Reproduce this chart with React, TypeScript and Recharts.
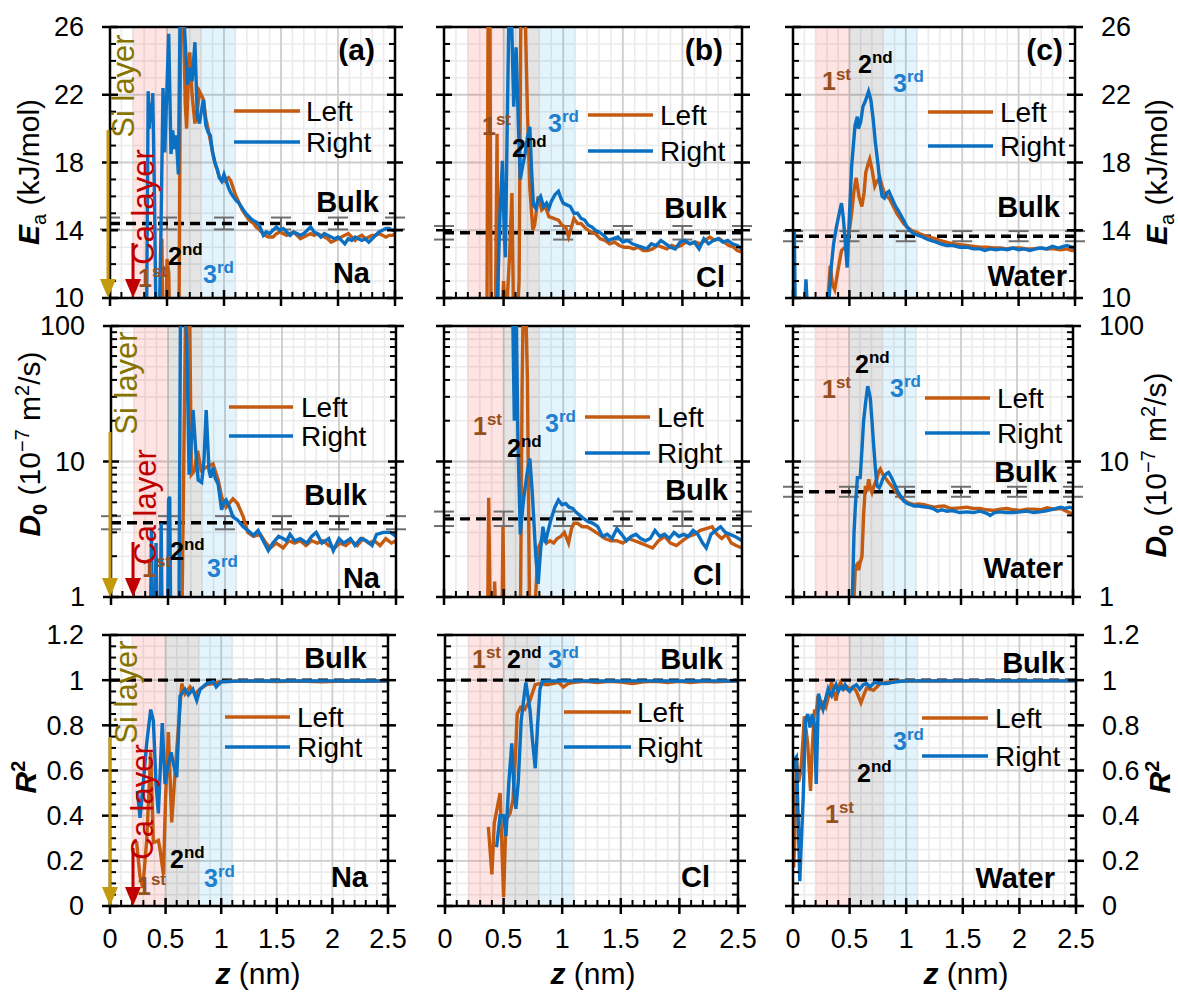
import React from 'react';
import { LineChart, Line, XAxis, YAxis, CartesianGrid, ReferenceArea, ReferenceLine, ErrorBar } from 'recharts';

type Pt = [number, number];

const FONT = "'Liberation Sans', Arial, Helvetica, sans-serif";
const ORANGE = '#c55a11';
const BLUE = '#0b70c2';

// ---------- axis ticks ----------
const X_TICKS = [0, 0.1, 0.2, 0.3, 0.4, 0.5, 0.6, 0.7, 0.8, 0.9, 1, 1.1, 1.2, 1.3, 1.4, 1.5, 1.6, 1.7, 1.8, 1.9, 2, 2.1, 2.2, 2.3, 2.4, 2.5];
const X_MAJOR = [0, 0.5, 1, 1.5, 2, 2.5];
const X_LABELS = ['0', '0.5', '1', '1.5', '2', '2.5'];

const EA_TICKS = [10, 11, 12, 13, 14, 15, 16, 17, 18, 19, 20, 21, 22, 23, 24, 25, 26];
const EA_MAJOR = [10, 14, 18, 22, 26];
const EA_LABELS = ['10', '14', '18', '22', '26'];

const D_TICKS = [1, 2, 3, 4, 5, 6, 7, 8, 9, 10, 20, 30, 40, 50, 60, 70, 80, 90, 100];
const D_MAJOR = [1, 10, 100];
const D_LABELS = ['1', '10', '100'];

const R_TICKS = [0, 0.05, 0.1, 0.15, 0.2, 0.25, 0.3, 0.35, 0.4, 0.45, 0.5, 0.55, 0.6, 0.65, 0.7, 0.75, 0.8, 0.85, 0.9, 0.95, 1, 1.05, 1.1, 1.15, 1.2];
const R_MAJOR = [0, 0.2, 0.4, 0.6, 0.8, 1, 1.2];
const R_LABELS = ['0', '0.2', '0.4', '0.6', '0.8', '1', '1.2'];

// layer bands (nm)
const LAYER_1 = [0.2, 0.5];
const LAYER_2 = [0.5, 0.8];
const LAYER_3 = [0.8, 1.1];

// bulk reference positions
const BULK_Z = [0, 0.5, 1, 1.5, 2, 2.5];
const NA_EA_BULK = 14.4, NA_EA_ERR: Pt = [0.35, 0.35];
const CL_EA_BULK = 13.85, CL_EA_ERR: Pt = [0.4, 0.4];
const W_EA_BULK = 13.65, W_EA_ERR: Pt = [0.3, 0.3];
const NA_D_BULK = 3.53, NA_D_ERR: Pt = [0.37, 0.42];
const CL_D_BULK = 3.77, CL_D_ERR: Pt = [0.43, 0.5];
const W_D_BULK = 5.98, W_D_ERR: Pt = [0.49, 0.53];
const R_BULK = 1;

// ---------- Na: activation energy ----------
const NA_EA_LEFT: Pt[] = [[0.44, 8], [0.455, 13.5], [0.465, 8], [0.49, 8], [0.50, 12.3], [0.515, 11.5], [0.525, 8], [0.59, 8], [0.605, 8], [0.62, 27], [0.645, 26.5], [0.66, 21.5], [0.672, 20.0], [0.69, 23.5], [0.70, 24.5], [0.72, 22], [0.745, 20.3], [0.765, 21], [0.785, 22.2], [0.80, 22.0], [0.82, 21.7], [0.84, 20.6], [0.86, 20.0], [0.88, 19.3], [0.90, 18.6], [0.92, 18.0], [0.94, 17.6], [0.96, 17.1], [0.98, 17.0], [1.00, 16.9], [1.02, 17.0], [1.04, 17.1], [1.06, 16.9], [1.08, 16.5], [1.10, 16.1], [1.12, 15.8], [1.14, 15.5], [1.16, 15.2], [1.18, 15.0], [1.20, 14.8], [1.22, 14.6], [1.24, 14.5], [1.26, 14.4], [1.28, 14.2], [1.30, 14.1], [1.33, 13.9], [1.36, 13.7], [1.39, 13.6], [1.43, 13.6], [1.46, 13.8], [1.49, 13.9], [1.52, 13.8], [1.55, 13.7], [1.58, 13.8], [1.61, 13.9], [1.64, 13.7], [1.67, 13.5], [1.70, 13.6], [1.73, 13.7], [1.76, 13.8], [1.79, 13.7], [1.82, 13.8], [1.85, 13.7], [1.88, 13.6], [1.91, 13.5], [1.94, 13.3], [1.97, 13.4], [2.00, 13.5], [2.03, 13.6], [2.06, 13.7], [2.09, 13.8], [2.12, 13.6], [2.15, 13.4], [2.18, 13.6], [2.21, 13.7], [2.24, 13.5], [2.27, 13.6], [2.30, 13.7], [2.33, 13.7], [2.36, 13.8], [2.39, 13.7], [2.42, 13.6], [2.45, 13.7], [2.48, 13.7], [2.50, 13.8]];
const NA_EA_RIGHT: Pt[] = [[0.32, 8], [0.335, 22.2], [0.345, 20.0], [0.355, 21.5], [0.365, 20.4], [0.375, 22.1], [0.39, 16], [0.405, 8], [0.43, 8], [0.445, 13], [0.465, 22.4], [0.48, 18.6], [0.495, 21.5], [0.515, 25.6], [0.535, 18.5], [0.55, 19.9], [0.565, 18.8], [0.58, 19.6], [0.60, 17.3], [0.615, 27], [0.645, 27], [0.665, 24.5], [0.68, 22.6], [0.70, 23.6], [0.72, 22.8], [0.745, 25.1], [0.765, 20.8], [0.785, 20.3], [0.80, 21.0], [0.82, 21.7], [0.84, 20.2], [0.86, 19.8], [0.88, 19.6], [0.90, 18.6], [0.92, 18.0], [0.94, 17.6], [0.96, 17.1], [0.98, 16.9], [1.00, 17.3], [1.02, 16.9], [1.04, 16.5], [1.06, 16.2], [1.08, 16.0], [1.10, 15.8], [1.13, 15.6], [1.16, 15.3], [1.19, 15.0], [1.22, 14.8], [1.25, 14.6], [1.28, 14.5], [1.31, 14.3], [1.345, 13.7], [1.37, 13.9], [1.40, 13.8], [1.43, 14.0], [1.46, 14.2], [1.49, 14.0], [1.52, 14.1], [1.55, 13.9], [1.58, 13.7], [1.61, 13.9], [1.64, 13.8], [1.67, 13.7], [1.70, 13.8], [1.73, 14.0], [1.76, 14.2], [1.79, 13.9], [1.82, 13.8], [1.85, 13.6], [1.88, 13.8], [1.91, 13.7], [1.94, 13.6], [1.97, 13.5], [2.00, 13.6], [2.03, 13.4], [2.06, 13.2], [2.09, 13.5], [2.12, 13.4], [2.15, 13.6], [2.18, 13.5], [2.21, 13.4], [2.24, 13.5], [2.27, 13.3], [2.30, 13.5], [2.33, 13.7], [2.36, 13.9], [2.39, 14.0], [2.42, 14.1], [2.45, 14.1], [2.48, 14.0], [2.50, 14.0]];

// ---------- Cl: activation energy ----------
const CL_EA_LEFT: Pt[] = [[0.36, 8], [0.37, 27], [0.385, 27], [0.395, 8], [0.43, 8], [0.445, 19.7], [0.455, 8], [0.48, 8], [0.50, 11], [0.52, 8.5], [0.55, 12.5], [0.57, 16.2], [0.585, 8], [0.61, 8], [0.63, 11], [0.645, 27], [0.68, 27], [0.70, 21], [0.72, 16.5], [0.745, 14.0], [0.76, 14.3], [0.79, 16.0], [0.82, 15.2], [0.85, 15.4], [0.88, 14.8], [0.92, 14.7], [0.96, 14.6], [0.99, 14.3], [1.02, 14.2], [1.045, 13.6], [1.07, 14.2], [1.09, 14.7], [1.12, 14.4], [1.15, 14.4], [1.19, 14.1], [1.23, 13.9], [1.27, 13.8], [1.31, 13.5], [1.35, 13.4], [1.39, 13.2], [1.43, 13.3], [1.47, 13.1], [1.51, 13.0], [1.55, 13.0], [1.59, 12.9], [1.63, 13.0], [1.67, 12.8], [1.71, 12.8], [1.75, 12.9], [1.79, 13.1], [1.83, 13.0], [1.87, 12.9], [1.91, 13.1], [1.95, 13.0], [1.99, 13.1], [2.03, 13.3], [2.07, 13.2], [2.11, 13.3], [2.15, 13.2], [2.19, 13.4], [2.23, 13.6], [2.27, 13.4], [2.31, 13.5], [2.35, 13.3], [2.39, 13.1], [2.43, 13.0], [2.46, 12.8], [2.50, 12.7]];
const CL_EA_RIGHT: Pt[] = [[0.44, 8], [0.47, 15], [0.49, 18.1], [0.505, 14], [0.515, 12.4], [0.53, 20], [0.545, 27], [0.565, 27], [0.585, 21.3], [0.605, 24.8], [0.625, 20], [0.64, 17.0], [0.66, 17.8], [0.68, 18.5], [0.70, 19.5], [0.72, 20.1], [0.735, 17.5], [0.75, 15.5], [0.77, 15.3], [0.79, 15.8], [0.81, 16.0], [0.835, 15.4], [0.86, 15.6], [0.88, 15.3], [0.90, 15.7], [0.93, 16.1], [0.96, 16.3], [0.98, 15.9], [1.00, 15.6], [1.03, 15.5], [1.06, 15.4], [1.09, 15.0], [1.12, 15.0], [1.15, 14.7], [1.18, 14.6], [1.21, 14.3], [1.24, 14.2], [1.27, 14.0], [1.30, 13.9], [1.34, 13.7], [1.38, 13.4], [1.42, 13.5], [1.46, 13.6], [1.50, 13.3], [1.54, 13.4], [1.58, 13.2], [1.62, 13.1], [1.66, 13.0], [1.70, 12.9], [1.74, 13.2], [1.78, 13.1], [1.82, 13.4], [1.86, 13.2], [1.90, 13.0], [1.94, 12.9], [1.98, 13.3], [2.02, 13.4], [2.06, 13.2], [2.10, 13.3], [2.14, 12.9], [2.18, 13.5], [2.22, 13.2], [2.26, 13.4], [2.30, 13.5], [2.34, 13.3], [2.38, 13.4], [2.42, 13.2], [2.46, 13.1], [2.50, 12.9]];

// ---------- Water: activation energy ----------
const W_EA_LEFT: Pt[] = [[0.30, 9], [0.33, 11.9], [0.35, 10.8], [0.37, 10.5], [0.40, 11.7], [0.43, 12.8], [0.46, 13.0], [0.48, 13.1], [0.50, 14.0], [0.52, 15.0], [0.54, 16.3], [0.56, 17.1], [0.585, 16.0], [0.61, 15.4], [0.63, 16.2], [0.645, 17.4], [0.665, 17.9], [0.68, 18.2], [0.70, 17.6], [0.725, 16.6], [0.745, 16.9], [0.77, 17.1], [0.79, 16.6], [0.81, 16.2], [0.835, 16.0], [0.86, 15.8], [0.89, 15.4], [0.92, 15.0], [0.95, 14.7], [0.98, 14.4], [1.01, 14.2], [1.05, 14.0], [1.09, 13.9], [1.12, 13.8], [1.16, 13.7], [1.21, 13.6], [1.26, 13.5], [1.30, 13.4], [1.36, 13.3], [1.42, 13.2], [1.48, 13.15], [1.54, 13.1], [1.60, 13.05], [1.66, 13.0], [1.72, 13.0], [1.78, 12.95], [1.84, 12.95], [1.89, 12.9], [1.95, 12.95], [2.01, 12.95], [2.07, 12.9], [2.13, 12.9], [2.19, 12.95], [2.25, 12.9], [2.31, 12.9], [2.37, 12.85], [2.43, 12.9], [2.47, 12.8], [2.50, 12.8]];
const W_EA_RIGHT: Pt[] = [[0.012, 14.0], [0.02, 9], [0.10, 9], [0.115, 11.1], [0.13, 9], [0.23, 9], [0.24, 9.9], [0.25, 9], [0.31, 9], [0.34, 11.9], [0.36, 13.2], [0.385, 14.2], [0.41, 15.0], [0.43, 15.6], [0.445, 14.8], [0.46, 13.6], [0.48, 11.8], [0.50, 14.8], [0.52, 17.8], [0.55, 20.2], [0.57, 20.7], [0.58, 20.0], [0.60, 20.4], [0.62, 21.3], [0.64, 21.6], [0.67, 22.2], [0.69, 21.7], [0.71, 20.6], [0.73, 19.2], [0.755, 17.8], [0.77, 16.8], [0.79, 16.0], [0.81, 15.9], [0.83, 16.2], [0.85, 16.3], [0.87, 16.0], [0.89, 15.7], [0.91, 15.4], [0.93, 15.2], [0.955, 14.9], [0.98, 14.6], [1.01, 14.2], [1.035, 14.0], [1.07, 13.8], [1.11, 13.7], [1.15, 13.6], [1.18, 13.5], [1.22, 13.4], [1.27, 13.3], [1.31, 13.2], [1.36, 13.1], [1.42, 13.1], [1.48, 13.0], [1.54, 13.0], [1.60, 12.9], [1.66, 12.9], [1.70, 12.8], [1.75, 12.9], [1.80, 12.85], [1.85, 12.9], [1.90, 12.85], [1.95, 12.95], [2.00, 12.85], [2.05, 12.9], [2.10, 12.8], [2.15, 12.9], [2.20, 12.95], [2.25, 12.9], [2.30, 13.05], [2.35, 12.95], [2.40, 13.05], [2.43, 13.1], [2.47, 13.0], [2.50, 13.0]];

// ---------- Na: pre-exponential factor ----------
const NA_D_LEFT: Pt[] = [[0.62, 0.5], [0.655, 150], [0.69, 120], [0.705, 8.0], [0.73, 8.5], [0.76, 12], [0.79, 8.6], [0.84, 9.1], [0.895, 9.6], [0.94, 7.3], [0.97, 5.5], [1.01, 4.6], [1.07, 5.3], [1.11, 4.9], [1.16, 3.9], [1.20, 3.0], [1.25, 2.8], [1.31, 2.9], [1.36, 2.5], [1.40, 2.3], [1.45, 2.5], [1.51, 2.3], [1.56, 2.6], [1.61, 2.5], [1.66, 2.6], [1.71, 2.4], [1.76, 2.6], [1.81, 2.5], [1.86, 2.6], [1.91, 2.4], [1.96, 2.3], [2.01, 2.5], [2.06, 2.4], [2.11, 2.6], [2.16, 2.4], [2.21, 2.7], [2.26, 2.5], [2.31, 2.6], [2.36, 2.4], [2.41, 2.7], [2.46, 2.5], [2.50, 2.6]];
const NA_D_RIGHT: Pt[] = [[0.345, 0.5], [0.355, 3.2], [0.365, 0.5], [0.385, 0.5], [0.395, 2.5], [0.405, 0.5], [0.43, 0.5], [0.44, 3.5], [0.45, 0.5], [0.495, 0.5], [0.505, 5.2], [0.515, 5.5], [0.525, 0.5], [0.595, 0.5], [0.61, 150], [0.645, 150], [0.665, 80], [0.685, 8.0], [0.70, 12], [0.72, 24], [0.745, 11.5], [0.765, 7.3], [0.795, 7.0], [0.815, 10], [0.835, 24], [0.86, 8.5], [0.875, 7.6], [0.895, 9.0], [0.915, 7.5], [0.94, 6.8], [0.97, 4.4], [0.99, 5.0], [1.01, 5.2], [1.04, 4.6], [1.07, 3.9], [1.11, 3.7], [1.16, 3.3], [1.20, 3.1], [1.25, 2.85], [1.29, 3.1], [1.335, 2.6], [1.38, 2.2], [1.42, 2.5], [1.47, 2.8], [1.51, 2.7], [1.54, 2.6], [1.57, 2.9], [1.61, 2.6], [1.66, 2.7], [1.72, 2.5], [1.76, 2.8], [1.80, 3.0], [1.85, 2.5], [1.91, 2.7], [1.95, 2.2], [2.00, 2.7], [2.04, 2.5], [2.10, 2.7], [2.14, 2.4], [2.19, 2.7], [2.24, 2.6], [2.29, 2.4], [2.33, 2.9], [2.39, 3.0], [2.45, 3.0], [2.50, 2.8]];

// ---------- Cl: pre-exponential factor ----------
const CL_D_LEFT: Pt[] = [[0.365, 0.5], [0.375, 5.4], [0.39, 0.5], [0.415, 0.5], [0.425, 1.3], [0.44, 0.5], [0.485, 0.5], [0.495, 3.3], [0.505, 0.5], [0.64, 0.5], [0.655, 35], [0.665, 150], [0.685, 150], [0.70, 40], [0.72, 0.5], [0.75, 0.5], [0.79, 2.3], [0.81, 2.5], [0.835, 3.0], [0.86, 2.5], [0.89, 2.6], [0.92, 2.5], [0.95, 2.7], [0.98, 2.8], [1.01, 3.0], [1.045, 2.5], [1.07, 3.2], [1.09, 3.5], [1.12, 3.5], [1.16, 3.3], [1.20, 3.3], [1.25, 3.1], [1.30, 2.9], [1.35, 2.7], [1.40, 2.6], [1.45, 2.6], [1.50, 2.5], [1.55, 2.7], [1.60, 2.6], [1.65, 2.5], [1.70, 2.4], [1.75, 2.3], [1.80, 2.6], [1.85, 2.8], [1.90, 2.5], [1.95, 2.4], [2.00, 2.6], [2.05, 2.8], [2.10, 2.9], [2.15, 3.1], [2.20, 3.2], [2.25, 3.3], [2.29, 2.9], [2.33, 2.7], [2.37, 2.9], [2.41, 2.5], [2.45, 2.4], [2.50, 2.3]];
const CL_D_RIGHT: Pt[] = [[0.56, 150], [0.575, 150], [0.59, 20], [0.605, 150], [0.62, 15], [0.64, 2.9], [0.67, 5.5], [0.70, 8.5], [0.72, 10.5], [0.74, 6], [0.77, 2.0], [0.79, 1.25], [0.81, 2.2], [0.83, 3.3], [0.85, 2.5], [0.87, 3.0], [0.90, 3.8], [0.93, 4.6], [0.96, 5.2], [0.99, 4.8], [1.02, 4.9], [1.05, 4.6], [1.08, 4.5], [1.11, 4.2], [1.14, 4.0], [1.17, 3.8], [1.21, 3.6], [1.25, 3.5], [1.29, 3.3], [1.33, 2.8], [1.37, 2.9], [1.41, 2.7], [1.45, 3.2], [1.49, 2.9], [1.53, 2.6], [1.57, 2.8], [1.61, 2.9], [1.65, 2.7], [1.69, 2.6], [1.73, 2.7], [1.77, 3.1], [1.81, 2.8], [1.85, 2.9], [1.89, 2.7], [1.93, 3.0], [1.97, 2.8], [2.01, 2.9], [2.05, 2.8], [2.09, 3.1], [2.13, 2.9], [2.17, 2.5], [2.20, 2.3], [2.24, 2.9], [2.28, 3.1], [2.32, 3.3], [2.36, 3.0], [2.40, 2.9], [2.44, 2.8], [2.47, 2.7], [2.50, 2.6]];

// ---------- Water: pre-exponential factor ----------
const W_D_LEFT: Pt[] = [[0.545, 1.0], [0.557, 1.68], [0.575, 1.75], [0.586, 1.58], [0.60, 1.8], [0.616, 2.0], [0.63, 4], [0.646, 6.6], [0.66, 6.0], [0.676, 7.4], [0.69, 6.4], [0.705, 5.9], [0.72, 6.5], [0.735, 7.0], [0.75, 7.5], [0.765, 8.4], [0.78, 8.8], [0.80, 8.1], [0.815, 7.7], [0.834, 7.4], [0.854, 7.0], [0.88, 6.6], [0.90, 6.3], [0.93, 5.8], [0.96, 5.4], [0.99, 5.2], [1.02, 5.0], [1.05, 4.9], [1.08, 4.8], [1.12, 4.85], [1.17, 4.8], [1.21, 4.7], [1.26, 4.6], [1.30, 4.65], [1.35, 4.7], [1.39, 4.55], [1.43, 4.5], [1.49, 4.55], [1.55, 4.6], [1.61, 4.5], [1.67, 4.5], [1.73, 4.4], [1.79, 4.35], [1.85, 4.45], [1.91, 4.5], [1.97, 4.4], [2.03, 4.35], [2.09, 4.45], [2.15, 4.45], [2.21, 4.4], [2.27, 4.55], [2.33, 4.45], [2.39, 4.5], [2.44, 4.3], [2.50, 4.1]];
const W_D_RIGHT: Pt[] = [[0.52, 0.8], [0.53, 1.0], [0.545, 3.0], [0.557, 4.7], [0.575, 7.6], [0.60, 7.6], [0.615, 12], [0.63, 19.8], [0.65, 28], [0.667, 36], [0.69, 29.5], [0.705, 20], [0.72, 13.2], [0.735, 9], [0.75, 6.6], [0.77, 6.4], [0.786, 6.8], [0.80, 7.4], [0.82, 7.9], [0.84, 8.2], [0.854, 8.3], [0.88, 7.6], [0.90, 7.0], [0.92, 6.4], [0.94, 5.9], [0.965, 5.5], [0.99, 5.1], [1.02, 4.9], [1.05, 4.8], [1.08, 4.7], [1.11, 4.7], [1.15, 4.65], [1.20, 4.6], [1.25, 4.5], [1.29, 4.3], [1.33, 4.4], [1.375, 4.3], [1.42, 4.35], [1.49, 4.2], [1.55, 4.25], [1.61, 4.2], [1.67, 4.3], [1.73, 4.15], [1.76, 4.0], [1.80, 4.2], [1.85, 4.25], [1.90, 4.2], [1.97, 4.2], [2.03, 4.25], [2.09, 4.3], [2.15, 4.2], [2.20, 4.25], [2.25, 4.3], [2.30, 4.4], [2.35, 4.5], [2.39, 4.6], [2.43, 4.5], [2.47, 4.6], [2.50, 4.5]];

// ---------- Na: fit quality ----------
const NA_R_LEFT: Pt[] = [[0.21, 0.29], [0.24, 0.28], [0.27, 0.13], [0.295, 0.08], [0.33, 0.29], [0.366, 0.68], [0.39, 0.28], [0.435, 0.29], [0.45, 0.25], [0.48, 0.14], [0.50, 0.48], [0.525, 0.77], [0.555, 0.37], [0.585, 0.59], [0.615, 0.79], [0.645, 0.985], [0.675, 0.94], [0.72, 0.97], [0.765, 0.94], [0.81, 0.96], [0.87, 0.98], [0.93, 0.985], [0.99, 0.993], [1.1, 0.995], [1.3, 0.996], [1.5, 0.994], [1.7, 0.996], [1.9, 0.993], [2.1, 0.996], [2.3, 0.995], [2.5, 0.996]];
const NA_R_RIGHT: Pt[] = [[0.246, 0.51], [0.27, 0.39], [0.30, 0.55], [0.33, 0.72], [0.366, 0.87], [0.39, 0.82], [0.414, 0.54], [0.435, 0.41], [0.47, 0.81], [0.495, 0.54], [0.52, 0.62], [0.55, 0.68], [0.57, 0.63], [0.60, 0.57], [0.63, 0.93], [0.675, 0.96], [0.705, 0.935], [0.745, 0.96], [0.78, 0.91], [0.81, 0.96], [0.87, 0.985], [0.93, 0.993], [0.955, 0.97], [1.0, 0.993], [1.2, 0.997], [1.4, 0.996], [1.6, 0.997], [1.8, 0.996], [2.0, 0.997], [2.2, 0.996], [2.5, 0.997]];

// ---------- Cl: fit quality ----------
const CL_R_LEFT: Pt[] = [[0.37, 0.35], [0.40, 0.14], [0.42, 0.365], [0.44, 0.42], [0.47, 0.50], [0.50, 0.04], [0.52, 0.38], [0.555, 0.41], [0.58, 0.47], [0.60, 0.65], [0.616, 0.85], [0.645, 0.88], [0.68, 0.87], [0.70, 0.89], [0.725, 0.91], [0.75, 0.95], [0.77, 0.98], [0.81, 0.985], [0.87, 0.98], [0.92, 0.985], [0.97, 0.99], [1.01, 0.97], [1.05, 0.985], [1.1, 0.99], [1.2, 0.995], [1.3, 0.99], [1.4, 0.995], [1.5, 0.992], [1.6, 0.985], [1.7, 0.993], [1.8, 0.995], [1.9, 0.99], [2.0, 0.995], [2.1, 0.99], [2.2, 0.995], [2.3, 0.993], [2.4, 0.995], [2.5, 0.996]];
const CL_R_RIGHT: Pt[] = [[0.44, 0.26], [0.47, 0.40], [0.50, 0.40], [0.52, 0.31], [0.545, 0.55], [0.57, 0.72], [0.59, 0.50], [0.605, 0.43], [0.625, 0.55], [0.65, 0.82], [0.675, 0.93], [0.69, 0.99], [0.71, 0.92], [0.725, 0.87], [0.745, 0.74], [0.77, 0.61], [0.79, 0.80], [0.81, 0.96], [0.83, 0.995], [0.9, 0.996], [1.1, 0.997], [1.4, 0.996], [1.7, 0.997], [2.0, 0.996], [2.3, 0.997], [2.5, 0.996]];

// ---------- Water: fit quality ----------
const W_R_LEFT: Pt[] = [[0.006, 0.17], [0.015, 0.28], [0.03, 0.65], [0.05, 0.55], [0.07, 0.6], [0.09, 0.75], [0.10, 0.84], [0.13, 0.72], [0.155, 0.51], [0.17, 0.7], [0.19, 0.87], [0.205, 0.85], [0.22, 0.93], [0.24, 0.88], [0.265, 0.9], [0.29, 0.88], [0.31, 0.92], [0.34, 0.99], [0.36, 0.95], [0.38, 0.91], [0.40, 0.97], [0.42, 0.99], [0.45, 0.96], [0.48, 0.97], [0.50, 0.96], [0.53, 0.97], [0.56, 0.95], [0.60, 0.90], [0.63, 0.94], [0.65, 0.965], [0.68, 0.96], [0.71, 0.955], [0.74, 0.97], [0.77, 0.985], [0.83, 0.99], [0.9, 0.995], [1.0, 0.997], [1.3, 0.996], [1.6, 0.997], [1.9, 0.996], [2.2, 0.997], [2.5, 0.997]];
const W_R_RIGHT: Pt[] = [[0.006, 0.6], [0.015, 0.65], [0.03, 0.66], [0.045, 0.4], [0.06, 0.11], [0.075, 0.3], [0.09, 0.48], [0.11, 0.82], [0.13, 0.85], [0.15, 0.79], [0.17, 0.85], [0.19, 0.8], [0.205, 0.54], [0.225, 0.94], [0.245, 0.9], [0.265, 0.87], [0.29, 0.92], [0.31, 0.96], [0.325, 0.94], [0.34, 0.93], [0.36, 0.96], [0.38, 0.98], [0.40, 0.95], [0.42, 0.97], [0.44, 0.96], [0.46, 0.98], [0.48, 0.96], [0.50, 0.95], [0.53, 0.97], [0.56, 0.98], [0.59, 0.96], [0.62, 0.98], [0.65, 0.985], [0.68, 0.97], [0.72, 0.99], [0.77, 0.985], [0.83, 0.985], [0.88, 0.99], [0.95, 0.995], [1.05, 0.997], [1.4, 0.997], [1.8, 0.997], [2.2, 0.997], [2.5, 0.997]];

// ---------- panel layout ----------
type RowAxis = { scale: 'linear' | 'log'; domain: [number, number]; ticks: number[]; major: number[]; labels: string[] };
const ROW_AXES: RowAxis[] = [
  { scale: 'linear', domain: [10, 26], ticks: EA_TICKS, major: EA_MAJOR, labels: EA_LABELS },
  { scale: 'log', domain: [1, 100], ticks: D_TICKS, major: D_MAJOR, labels: D_LABELS },
  { scale: 'linear', domain: [0, 1.2], ticks: R_TICKS, major: R_MAJOR, labels: R_LABELS },
];

// plot rectangles [x0, y0, x1, y1] in page pixels
const RECTS = [
  [[110, 27, 395, 298], [444, 27, 742, 298], [793, 27, 1075, 298]],
  [[111, 326, 396, 597], [444, 326, 742, 597], [793, 326, 1073, 597]],
  [[110, 635, 388, 906], [445, 635, 738, 906], [793, 635, 1076, 906]],
];

const SERIES = [
  [
    { left: NA_EA_LEFT, right: NA_EA_RIGHT, bulk: NA_EA_BULK, err: NA_EA_ERR },
    { left: CL_EA_LEFT, right: CL_EA_RIGHT, bulk: CL_EA_BULK, err: CL_EA_ERR },
    { left: W_EA_LEFT, right: W_EA_RIGHT, bulk: W_EA_BULK, err: W_EA_ERR },
  ],
  [
    { left: NA_D_LEFT, right: NA_D_RIGHT, bulk: NA_D_BULK, err: NA_D_ERR },
    { left: CL_D_LEFT, right: CL_D_RIGHT, bulk: CL_D_BULK, err: CL_D_ERR },
    { left: W_D_LEFT, right: W_D_RIGHT, bulk: W_D_BULK, err: W_D_ERR },
  ],
  [
    { left: NA_R_LEFT, right: NA_R_RIGHT, bulk: R_BULK, err: null },
    { left: CL_R_LEFT, right: CL_R_RIGHT, bulk: R_BULK, err: null },
    { left: W_R_LEFT, right: W_R_RIGHT, bulk: R_BULK, err: null },
  ],
];

const SPECIES = ['Na', 'Cl', 'Water'];
const TAGS = ['(a)', '(b)', '(c)'];

// text placement inside each panel
type Annot = { tag?: [number, number]; bulk: [number, number]; sp: [number, number]; legend: [number, number, number, number, number]; ord: [number, number][] };
const ANNOT: Annot[][] = [
  [
    { tag: [375, 60], bulk: [379, 212], sp: [370, 283], legend: [234, 300, 306, 111, 142], ord: [[138, 287], [168, 265], [203, 283]] },
    { tag: [723, 60], bulk: [727, 218], sp: [725, 287], legend: [588, 653, 660, 115, 151], ord: [[482, 135], [512, 157], [548, 132]] },
    { tag: [1063, 60], bulk: [1060, 217], sp: [1067, 286], legend: [928, 993, 1000, 112, 146], ord: [[822, 90], [858, 73], [893, 92]] },
  ],
  [
    { bulk: [367, 505], sp: [380, 588], legend: [229, 293, 301, 407, 436], ord: [[142, 577], [170, 560], [207, 577]] },
    { bulk: [728, 500], sp: [722, 585], legend: [585, 650, 657, 417, 453], ord: [[473, 435], [507, 457], [545, 432]] },
    { bulk: [1057, 482], sp: [1063, 578], legend: [925, 990, 997, 398, 433], ord: [[822, 398], [855, 373], [890, 397]] },
  ],
  [
    { bulk: [367, 668], sp: [368, 887], legend: [225, 290, 297, 717, 747], ord: [[137, 895], [170, 868], [204, 887]] },
    { bulk: [723, 669], sp: [710, 887], legend: [564, 631, 637, 712, 747], ord: [[472, 668], [507, 668], [548, 668]] },
    { bulk: [1065, 673], sp: [1055, 888], legend: [922, 988, 995, 718, 756], ord: [[825, 823], [857, 782], [893, 750]] },
  ],
];

const LAYERS = [
  { n: '1', sup: 'st', color: '#96501c' },
  { n: '2', sup: 'nd', color: '#000000' },
  { n: '3', sup: 'rd', color: '#1f80d0' },
];

// substrate layer markers in the Na column
const SUBSTRATE = [
  { si: [134, 86], ca: [154, 207], gold: [108, 130, 298], red: [133, 243, 298] },
  { si: [137, 383], ca: [156, 507], gold: [110, 432, 597], red: [133, 542, 597] },
  { si: [137, 692], ca: [153, 802], gold: [110, 737, 906], red: [133, 848, 906] },
];

// outer margins; each axis takes 1px of it
const AX = 1;
const M = { top: 14, right: 110 - AX, bottom: 80 - AX, left: 110 - AX };
const LINE_W = 3.4;

function xTick(showLabel: boolean) {
  return (p: any) => {
    const v = p.payload.value;
    const i = X_MAJOR.indexOf(v);
    const { x, y } = p;
    return (
      <g>
        {i >= 0 ? (
          <line x1={x} x2={x} y1={y - 8} y2={y + 8} stroke="#000" strokeWidth={2.5} />
        ) : (
          <line x1={x} x2={x} y1={y} y2={y - 6} stroke="#000" strokeWidth={2} />
        )}
        {i >= 0 && showLabel ? (
          <text x={x} y={y + 42} textAnchor="middle" fontSize={27} fontFamily={FONT} fill="#000">
            {X_LABELS[i]}
          </text>
        ) : null}
      </g>
    );
  };
}

function yTick(axis: RowAxis, side: 'left' | 'right', showLabel: boolean) {
  return (p: any) => {
    const v = p.payload.value;
    const i = axis.major.indexOf(v);
    const { x, y } = p;
    const out = side === 'left' ? -1 : 1;
    return (
      <g>
        {i >= 0 ? (
          <line x1={x + out * 8} x2={x - out * 8} y1={y} y2={y} stroke="#000" strokeWidth={2.5} />
        ) : (
          <line x1={x} x2={x - out * 6} y1={y} y2={y} stroke="#000" strokeWidth={2} />
        )}
        {i >= 0 && showLabel ? (
          <text x={x + out * 26} y={y} dy="0.35em" textAnchor={side === 'left' ? 'end' : 'start'} fontSize={27} fontFamily={FONT} fill="#000">
            {axis.labels[i]}
          </text>
        ) : null}
      </g>
    );
  };
}

function Panel({ row, col }: { row: number; col: number }) {
  const [x0, y0, x1, y1] = RECTS[row][col];
  const axis = ROW_AXES[row];
  const s = SERIES[row][col];
  const w = x1 - x0 + M.left + M.right + 2 * AX;
  const h = y1 - y0 + M.top + M.bottom + AX;
  const leftRows = s.left.map(([z, v]) => ({ z, v }));
  const rightRows = s.right.map(([z, v]) => ({ z, v }));
  const bulkRows = BULK_Z.map((z) => ({ z, v: s.bulk, e: s.err }));
  const minorY = axis.ticks.filter((t) => axis.major.indexOf(t) < 0);
  const minorX = X_TICKS.filter((t) => X_MAJOR.indexOf(t) < 0);
  return (
    <div style={{ position: 'absolute', left: x0 - M.left - AX, top: y0 - M.top }}>
      <LineChart width={w} height={h} margin={M}>
        <CartesianGrid verticalValues={minorX} horizontalValues={minorY} stroke="#ebebeb" strokeWidth={1.6} />
        <CartesianGrid verticalValues={X_MAJOR} horizontalValues={axis.major} stroke="#cdcdcd" strokeWidth={1.8} />
        <ReferenceArea x1={LAYER_1[0]} x2={LAYER_1[1]} fill="#ff3030" fillOpacity={0.13} stroke="none" />
        <ReferenceArea x1={LAYER_2[0]} x2={LAYER_2[1]} fill="#303030" fillOpacity={0.13} stroke="none" />
        <ReferenceArea x1={LAYER_3[0]} x2={LAYER_3[1]} fill="#1ea8e8" fillOpacity={0.12} stroke="none" />
        <XAxis
          dataKey="z"
          type="number"
          domain={[0, 2.5]}
          ticks={X_TICKS}
          interval={0}
          allowDataOverflow
          height={AX}
          tickSize={0}
          tickMargin={0}
          tickLine={false}
          tick={xTick(row === 2)}
          axisLine={{ stroke: '#000', strokeWidth: 2.5 }}
        />
        <YAxis
          type="number"
          scale={axis.scale}
          domain={axis.domain}
          ticks={axis.ticks}
          interval={0}
          allowDataOverflow
          width={AX}
          tickSize={0}
          tickMargin={0}
          tickLine={false}
          tick={yTick(axis, 'left', col === 0)}
          axisLine={{ stroke: '#000', strokeWidth: 2.5 }}
        />
        <YAxis
          yAxisId="r"
          orientation="right"
          type="number"
          scale={axis.scale}
          domain={axis.domain}
          ticks={axis.ticks}
          interval={0}
          allowDataOverflow
          width={AX}
          tickSize={0}
          tickMargin={0}
          tickLine={false}
          tick={yTick(axis, 'right', col === 2)}
          axisLine={{ stroke: '#000', strokeWidth: 2.5 }}
        />
        <ReferenceLine y={axis.domain[1]} stroke="#000" strokeWidth={2.5} />
        <Line data={bulkRows} dataKey="v" stroke="#000" strokeWidth={3.4} strokeDasharray="10 6" dot={false} isAnimationActive={false}>
          {s.err ? <ErrorBar dataKey="e" direction="y" width={10} stroke="#6f6f6f" strokeWidth={2} /> : null}
        </Line>
        <Line data={leftRows} dataKey="v" stroke={ORANGE} strokeWidth={LINE_W} dot={false} isAnimationActive={false} />
        <Line data={rightRows} dataKey="v" stroke={BLUE} strokeWidth={LINE_W} dot={false} isAnimationActive={false} />
      </LineChart>
    </div>
  );
}

function Ordinal({ x, y, n, sup, color }: { x: number; y: number; n: string; sup: string; color: string }) {
  return (
    <text x={x} y={y} fill={color} fontFamily={FONT} fontWeight="bold" fontSize={25}>
      {n}
      <tspan dy={-10} fontSize={17}>
        {sup}
      </tspan>
    </text>
  );
}

function Arrow({ x, y0, y1, color }: { x: number; y0: number; y1: number; color: string }) {
  return (
    <g>
      <line x1={x} x2={x} y1={y0} y2={y1 - 14} stroke={color} strokeWidth={3} />
      <polygon points={`${x - 8},${y1 - 19} ${x + 8},${y1 - 19} ${x},${y1}`} fill={color} />
    </g>
  );
}

function Overlay() {
  const txt = { fontFamily: FONT, fill: '#000' };
  return (
    <svg width={1178} height={992} style={{ position: 'absolute', left: 0, top: 0, pointerEvents: 'none' }}>
      {ANNOT.map((rowA, r) =>
        rowA.map((a, c) => (
          <g key={`${r}-${c}`}>
            {a.tag ? (
              <text x={a.tag[0]} y={a.tag[1]} textAnchor="end" fontWeight="bold" fontSize={30} {...txt}>
                {TAGS[c]}
              </text>
            ) : null}
            <text x={a.bulk[0]} y={a.bulk[1]} textAnchor="end" fontWeight="bold" fontSize={29} {...txt}>
              Bulk
            </text>
            <text x={a.sp[0]} y={a.sp[1]} textAnchor="end" fontWeight="bold" fontSize={29} {...txt}>
              {SPECIES[c]}
            </text>
            <line x1={a.legend[0]} x2={a.legend[1]} y1={a.legend[3]} y2={a.legend[3]} stroke={ORANGE} strokeWidth={3.5} />
            <line x1={a.legend[0]} x2={a.legend[1]} y1={a.legend[4]} y2={a.legend[4]} stroke={BLUE} strokeWidth={3.5} />
            <text x={a.legend[2]} y={a.legend[3]} dy="0.36em" fontSize={28} {...txt}>
              Left
            </text>
            <text x={a.legend[2]} y={a.legend[4]} dy="0.36em" fontSize={28} {...txt}>
              Right
            </text>
            {a.ord.map((o, k) => (
              <Ordinal key={k} x={o[0]} y={o[1]} n={LAYERS[k].n} sup={LAYERS[k].sup} color={LAYERS[k].color} />
            ))}
          </g>
        ))
      )}
      {SUBSTRATE.map((s, r) => (
        <g key={`sub-${r}`}>
          <Arrow x={s.gold[0]} y0={s.gold[1]} y1={s.gold[2]} color="#c29a0c" />
          <Arrow x={s.red[0]} y0={s.red[1]} y1={s.red[2]} color="#c00000" />
          <text transform={`translate(${s.si[0]},${s.si[1]}) rotate(-90)`} textAnchor="middle" fontSize={31} fontFamily={FONT} fill="#877300">
            Si layer
          </text>
          <text transform={`translate(${s.ca[0]},${s.ca[1]}) rotate(-90)`} textAnchor="middle" fontSize={31} fontFamily={FONT} fill="#c00000">
            Ca layer
          </text>
        </g>
      ))}
      {/* left axis titles */}
      <text transform="translate(39,172) rotate(-90)" textAnchor="middle" fontSize={30} {...txt}>
        <tspan fontWeight="bold" fontStyle="italic">E</tspan>
        <tspan dy={7} fontSize={20}>a</tspan>
        <tspan dy={-7}> (kJ/mol)</tspan>
      </text>
      <text transform="translate(40,444) rotate(-90)" textAnchor="middle" fontSize={30} {...txt}>
        <tspan fontWeight="bold" fontStyle="italic">D</tspan>
        <tspan dy={7} fontSize={20} fontWeight="bold">0</tspan>
        <tspan dy={-7}> (10</tspan>
        <tspan dy={-11} fontSize={20}>−7</tspan>
        <tspan dy={11}> m</tspan>
        <tspan dy={-11} fontSize={20}>2</tspan>
        <tspan dy={11}>/s)</tspan>
      </text>
      <text transform="translate(36,777) rotate(-90)" textAnchor="middle" fontSize={30} {...txt}>
        <tspan fontWeight="bold" fontStyle="italic">R</tspan>
        <tspan dy={-11} fontSize={20} fontWeight="bold">2</tspan>
      </text>
      {/* right axis titles */}
      <text transform="translate(1167,172) rotate(-90)" textAnchor="middle" fontSize={30} {...txt}>
        <tspan fontWeight="bold" fontStyle="italic">E</tspan>
        <tspan dy={7} fontSize={20}>a</tspan>
        <tspan dy={-7}> (kJ/mol)</tspan>
      </text>
      <text transform="translate(1166,465) rotate(-90)" textAnchor="middle" fontSize={30} {...txt}>
        <tspan fontWeight="bold" fontStyle="italic">D</tspan>
        <tspan dy={7} fontSize={20} fontWeight="bold">0</tspan>
        <tspan dy={-7}> (10</tspan>
        <tspan dy={-11} fontSize={20}>−7</tspan>
        <tspan dy={11}> m</tspan>
        <tspan dy={-11} fontSize={20}>2</tspan>
        <tspan dy={11}>/s)</tspan>
      </text>
      <text transform="translate(1170,777) rotate(-90)" textAnchor="middle" fontSize={30} {...txt}>
        <tspan fontWeight="bold" fontStyle="italic">R</tspan>
        <tspan dy={-11} fontSize={20} fontWeight="bold">2</tspan>
      </text>
      {/* x axis titles */}
      {[258, 593, 966].map((cx, i) => (
        <text key={`xt-${i}`} x={cx} y={984} textAnchor="middle" fontSize={30} {...txt}>
          <tspan fontWeight="bold" fontStyle="italic">z</tspan>
          <tspan> (nm)</tspan>
        </text>
      ))}
    </svg>
  );
}

export default function App() {
  const cells: React.ReactNode[] = [];
  for (let r = 0; r < 3; r++) {
    for (let c = 0; c < 3; c++) {
      cells.push(<Panel key={`${r}-${c}`} row={r} col={c} />);
    }
  }
  return (
    <div style={{ position: 'absolute', left: 0, top: 0, width: 1178, height: 992, background: '#fff', fontFamily: FONT }}>
      {cells}
      <Overlay />
    </div>
  );
}
